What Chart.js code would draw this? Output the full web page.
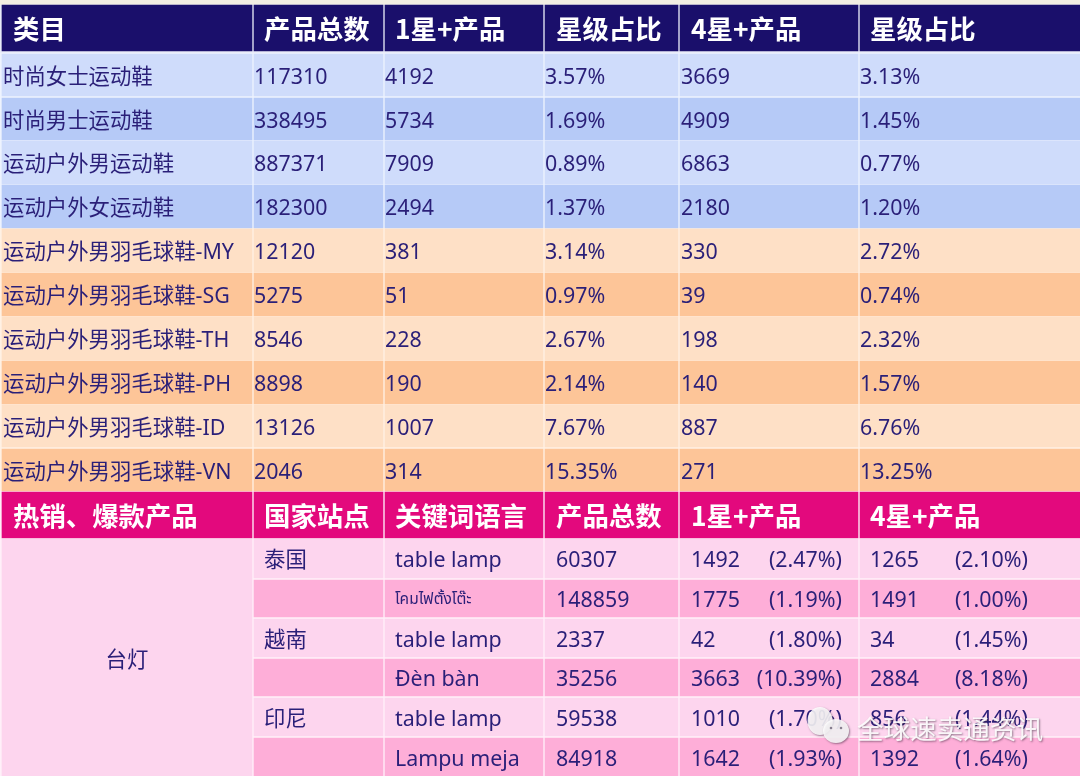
<!DOCTYPE html>
<html><head><meta charset="utf-8">
<script src="https://cdn.jsdelivr.net/npm/chart.js@4"></script>
<style>html,body{margin:0;padding:0;background:#fff}canvas{display:block}</style>
</head><body><canvas id="c" width="1080" height="776"></canvas>
<script>
// ---- table content ----
const headersTop = ["类目","产品总数","1星+产品","星级占比","4星+产品","星级占比"];
const categories = ["时尚女士运动鞋","时尚男士运动鞋","运动户外男运动鞋","运动户外女运动鞋","运动户外男羽毛球鞋-MY","运动户外男羽毛球鞋-SG","运动户外男羽毛球鞋-TH","运动户外男羽毛球鞋-PH","运动户外男羽毛球鞋-ID","运动户外男羽毛球鞋-VN"];
const totals = [117310,338495,887371,182300,12120,5275,8546,8898,13126,2046];
const oneStar = [4192,5734,7909,2494,381,51,228,190,1007,314];
const oneStarPct = ["3.57%","1.69%","0.89%","1.37%","3.14%","0.97%","2.67%","2.14%","7.67%","15.35%"];
const fourStar = [3669,4909,6863,2180,330,39,198,140,887,271];
const fourStarPct = ["3.13%","1.45%","0.77%","1.20%","2.72%","0.74%","2.32%","1.57%","6.76%","13.25%"];

const headersLow = ["热销、爆款产品","国家站点","关键词语言","产品总数","1星+产品","4星+产品"];
const product = "台灯";
const countries = ["泰国","","越南","","印尼",""];
const keywords = ["table lamp","โคมไฟตั้งโต๊ะ","table lamp","Đèn bàn","table lamp","Lampu meja"];
const lowTotals = [60307,148859,2337,35256,59538,84918];
const lowOne = [1492,1775,42,3663,1010,1642];
const lowOnePct = ["(2.47%)","(1.19%)","(1.80%)","(10.39%)","(1.70%)","(1.93%)"];
const lowFour = [1265,1491,34,2884,856,1392];
const lowFourPct = ["(2.10%)","(1.00%)","(1.45%)","(8.18%)","(1.44%)","(1.64%)"];
const watermark = "全球速卖通资讯";

// ---- layout, in the axis units of the table ----
const colEdges = [[2,252],[254,383],[385,543],[545,678],[680,858],[860,1080]];
const topRows = [[5,51],[54,96],[98,140],[141,184],[185,228],[229,272],[273,316],[317,360],[361,404],[405,447],[449,491]];
const lowRows = [[492,538],[539,578],[580,617],[619,657],[659,696],[698,736],[738,776]];
const textX = [3,254,385,545,681,860];
const headX = [13,264,395,556,691,870];
const C = {navy:"#1a0f6b",b1:"#cfdcfb",b2:"#b6caf7",o1:"#fee0c6",o2:"#fdc598",mag:"#e3097d",p1:"#fdd5ee",p2:"#feaed8",ink:"#2a1f78"};
const FONT = '"Noto Sans","Noto Sans CJK SC",sans-serif';
const BOLD = '"Noto Sans CJK SC","Noto Sans",sans-serif';

function rowColour(i){ return i===0?C.navy:i<=4?(i%2?C.b1:C.b2):(i%2?C.o1:C.o2); }
function lowColour(i){ return i===0?C.mag:(i%2?C.p1:C.p2); }

const datasets = colEdges.map((e,c)=>{
  const data=[],bg=[];
  const x=(e[0]+e[1])/2;
  topRows.forEach((r,i)=>{data.push({x,y:r});bg.push(rowColour(i));});
  if(c===0){
    data.push({x,y:lowRows[0]});bg.push(C.mag);
    data.push({x,y:[lowRows[1][0],776]});bg.push(C.p1);
  } else {
    lowRows.forEach((r,i)=>{data.push({x,y:r});bg.push(lowColour(i));});
  }
  return {data,backgroundColor:bg,barThickness:e[1]-e[0],borderWidth:0,order:1,grouped:false};
});
datasets.push({
  data:[{x:540,y:[0,5]},{x:540,y:[5,53]},{x:540,y:[53,228]},{x:540,y:[228,491]},{x:540,y:[491,776]}],
  backgroundColor:["#f3eee3","#e9ebf8","#eef3fe","#fff1e4","#fff0f9"],
  barThickness:1080,borderWidth:0,order:5,grouped:false
});

const tablePlugin={
  id:"tableText",
  afterDatasetsDraw(chart){
    const g=chart.ctx,X=chart.scales.x,Y=chart.scales.y;
    const put=(t,x,y,font,col,al)=>{
      g.font=font;g.fillStyle=col;g.textAlign=al||"left";g.textBaseline="middle";
      g.fillText(String(t),X.getPixelForValue(x),Y.getPixelForValue(y));
    };
    const mid=r=>(r[0]+r[1])/2+2.5;
    const h='bold 26.4px '+BOLD, b='21.4px '+FONT;
    headersTop.forEach((t,i)=>put(t,headX[i],mid(topRows[0])-1.5,h,"#fff"));
    categories.forEach((t,i)=>{
      const y=mid(topRows[i+1]);
      [t,totals[i],oneStar[i],oneStarPct[i],fourStar[i],fourStarPct[i]].forEach((v,c)=>put(v,textX[c],y,b,C.ink));
    });
    headersLow.forEach((t,i)=>put(t,headX[i],mid(lowRows[0])-1.5,h,"#fff"));
    put(product,127,661,b,C.ink,"center");
    keywords.forEach((k,i)=>{
      const y=mid(lowRows[i+1]);
      put(countries[i],headX[1],y,b,C.ink);
      put(k,headX[2],y,i===1?'15.5px "Noto Sans Thai","Noto Sans","DejaVu Sans",sans-serif':b,C.ink);
      put(lowTotals[i],headX[3],y,b,C.ink);
      put(lowOne[i],headX[4],y,b,C.ink);
      put(lowOnePct[i],842,y,b,C.ink,"right");
      put(lowFour[i],headX[5],y,b,C.ink);
      put(lowFourPct[i],1028,y,b,C.ink,"right");
    });
    // watermark
    g.save();
    g.shadowColor="rgba(60,40,60,.6)";g.shadowBlur=2;g.shadowOffsetX=1;g.shadowOffsetY=1;
    put(watermark,857,729,'26.6px "Noto Sans CJK SC",sans-serif',"rgba(255,255,255,.9)");
    g.fillStyle="rgba(255,255,255,.85)";
    g.beginPath();g.ellipse(X.getPixelForValue(820),Y.getPixelForValue(721),12.5,14,0,0,Math.PI*2);g.fill();
    g.beginPath();g.ellipse(X.getPixelForValue(836),Y.getPixelForValue(731),13,12,0,0,Math.PI*2);g.fill();
    g.shadowColor="transparent";
    g.fillStyle="rgba(110,100,120,.8)";
    [[831,728],[841,728]].forEach(p=>{g.beginPath();g.arc(X.getPixelForValue(p[0]),Y.getPixelForValue(p[1]),1.3,0,Math.PI*2);g.fill();});
    g.restore();
  }
};

new Chart(document.getElementById("c"),{
  type:"bar",
  data:{datasets},
  options:{
    responsive:false,animation:false,devicePixelRatio:1,
    layout:{padding:0},
    plugins:{legend:{display:false},tooltip:{enabled:false},title:{display:false}},
    scales:{
      x:{type:"linear",min:0,max:1080,display:false,offset:false},
      y:{type:"linear",min:0,max:776,reverse:true,display:false}
    }
  },
  plugins:[tablePlugin]
});
</script></body></html>
